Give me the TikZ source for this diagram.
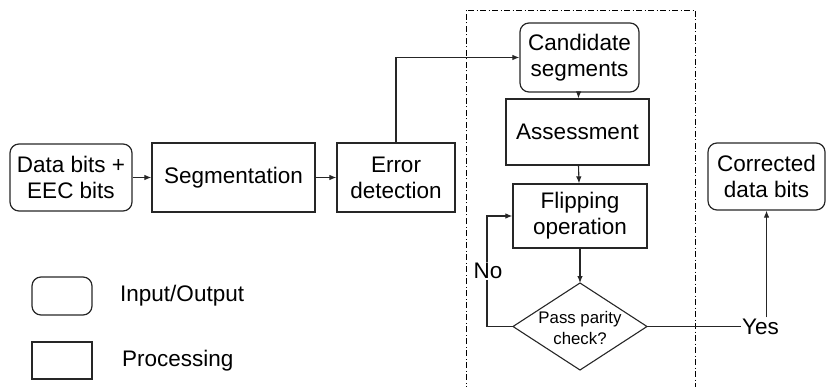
\documentclass[tikz,border=0pt]{standalone}
\usepackage{fontspec}
\setmainfont{Liberation Sans}
\usetikzlibrary{arrows.meta}
\begin{document}
\begin{tikzpicture}[x=1pt,y=-1pt,
  base/.style={draw=black!85,line width=1.2pt,inner sep=0pt,align=center,font=\fontsize{22.5}{26}\selectfont},
  iobox/.style={base,rounded corners=9pt},
  procbox/.style={base},
  conn/.style={line width=1.1pt,draw=black!85,-{Latex[length=7pt,width=5.5pt]}},
  line/.style={line width=1.1pt,draw=black!85},
  lbl/.style={font=\fontsize{22.5}{26}\selectfont,inner sep=1pt}]
\useasboundingbox (0,0) rectangle (826,387);
% dashed region
\draw[line width=0.8pt,dash pattern=on 6pt off 2.5pt on 1pt off 2.5pt] (466,392) -- (466,10) -- (695,10) -- (695,392);
% nodes
\node[iobox,minimum width=122pt,minimum height=67pt] (data) at (71,177.5) {Data bits +\\EEC bits};
\node[procbox,minimum width=163pt,minimum height=69pt] (seg) at (233.5,177.5) {Segmentation};
\node[procbox,minimum width=118pt,minimum height=69pt] (err) at (396,177.5) {Error\\detection};
\node[iobox,minimum width=119pt,minimum height=69pt] (cand) at (579.5,57.5) {Candidate\\segments};
\node[procbox,minimum width=143pt,minimum height=66pt] (assess) at (577.5,132) {Assessment};
\node[procbox,minimum width=134pt,minimum height=64pt] (flip) at (580,216) {Flipping\\operation};
\node[iobox,minimum width=117pt,minimum height=67pt] (corr) at (766.5,176.5) {Corrected\\data bits};
% diamond
\coordinate (dN) at (580,283);
\coordinate (dS) at (580,370);
\coordinate (dW) at (513,326.5);
\coordinate (dE) at (647,326.5);
\draw[line] (dN) -- (dE) -- (dS) -- (dW) -- cycle;
\node[align=center,inner sep=0pt,font=\fontsize{16.8}{21}\selectfont] (dia) at (580,328) {Pass parity\\check?};
% connectors
\draw[conn] (data) -- (seg);
\draw[conn] (seg) -- (err);
\draw[conn] (err.north) |- (cand.west);
\draw[conn] (cand) -- (assess);
\draw[conn] (assess) -- (flip);
\draw[conn] (flip) -- (dN);
\coordinate (loopc) at (487,326.5);
\draw[conn] (dW) -- (loopc) |- (flip.west);
\node[lbl,fill=white] (no) at (488,271) {No};
\node[lbl,anchor=west] (yes) at (741,326.5) {Yes};
\draw[line] (dE) -- (yes.west);
\draw[conn] (yes.north -| corr.south) -- (corr.south);
% legend
\node[iobox,minimum width=60pt,minimum height=38pt] (legio) at (62,296) {};
\node[lbl,anchor=west] (legiot) at (119,296) {Input/Output};
\node[procbox,minimum width=60pt,minimum height=37pt] (legpr) at (62,360.5) {};
\node[lbl,anchor=west] (legprt) at (121,360.5) {Processing};
\end{tikzpicture}
\end{document}
